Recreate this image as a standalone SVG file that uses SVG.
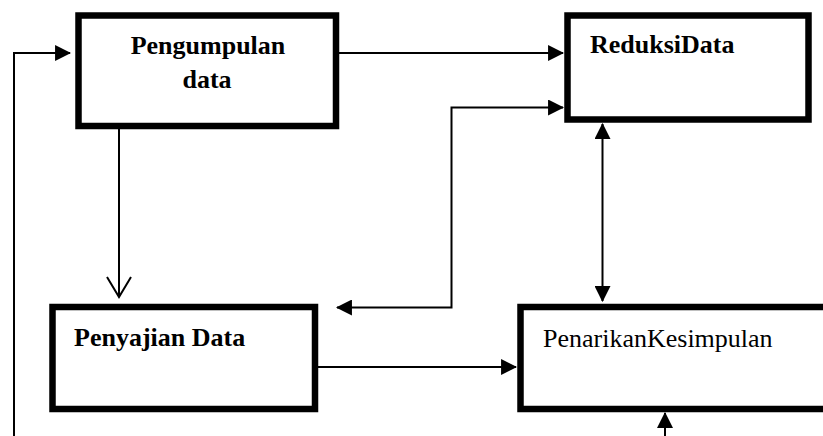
<svg xmlns="http://www.w3.org/2000/svg" width="823" height="436" viewBox="0 0 823 436">
<style>
.box{fill:#fff;stroke:#000;stroke-width:6.5}
.ln{fill:none;stroke:#000;stroke-width:2}
.tb{font-family:"Liberation Serif","Times New Roman",serif;font-size:26px;font-weight:bold;fill:#000}
.tn{font-family:"Liberation Serif","Times New Roman",serif;font-size:26px;fill:#000}
</style>
<defs>
<marker id="ah" markerUnits="userSpaceOnUse" markerWidth="16" markerHeight="16" viewBox="0 0 15 15" refX="14" refY="7.5" orient="auto-start-reverse">
<path d="M0,0 L15,7.5 L0,15 z" fill="#000"/>
</marker>
<marker id="open" markerUnits="userSpaceOnUse" markerWidth="30" markerHeight="30" viewBox="0 0 30 30" refX="22" refY="15" orient="auto">
<path d="M2,3 L22,15 L2,27" fill="none" stroke="#000" stroke-width="2"/>
</marker>
</defs>
<rect width="823" height="436" fill="#fff"/>
<g id="connectors">
<path class="ln" d="M14,436 L14,53 L70,53" marker-end="url(#ah)"/>
<path class="ln" d="M339,53 L563,53" marker-end="url(#ah)"/>
<path class="ln" d="M119,129 L119,297" marker-end="url(#open)"/>
<path class="ln" d="M563,107.5 L451.5,107.5 L451.5,307.5 L337,307.5" marker-start="url(#ah)" marker-end="url(#ah)"/>
<path class="ln" d="M602.5,124 L602.5,301" marker-start="url(#ah)" marker-end="url(#ah)"/>
<path class="ln" d="M318,367 L516,367" marker-end="url(#ah)"/>
<path class="ln" d="M665,436 L665,413" marker-end="url(#ah)"/>
</g>
<g id="pengumpulan">
<rect class="box" x="78.5" y="15.5" width="257.5" height="110.5"/>
<text class="tb" x="208" y="54" text-anchor="middle">Pengumpulan</text>
<text class="tb" x="207" y="88" text-anchor="middle">data</text>
</g>
<g id="reduksi">
<rect class="box" x="567.5" y="15.5" width="241" height="104"/>
<text class="tb" x="590" y="53">ReduksiData</text>
</g>
<g id="penyajian">
<rect class="box" x="52.5" y="307" width="262.5" height="102"/>
<text class="tb" x="74" y="346">Penyajian Data</text>
</g>
<g id="penarikan">
<rect class="box" x="520.5" y="307" width="320" height="102"/>
<text class="tn" x="543" y="347">PenarikanKesimpulan</text>
</g>
</svg>
